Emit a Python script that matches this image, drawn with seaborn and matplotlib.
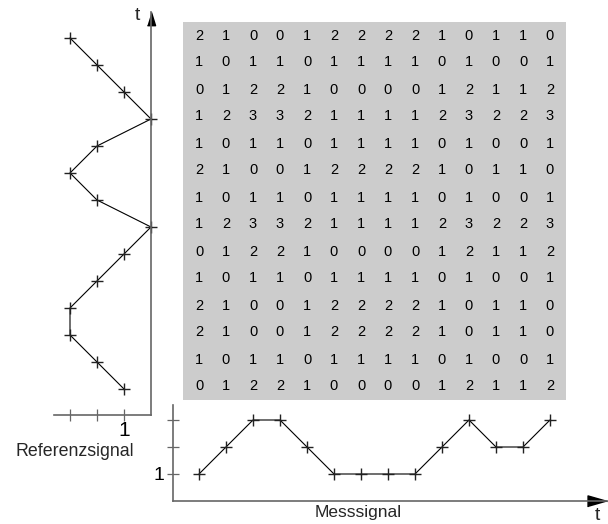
import numpy as np
import pandas as pd
import matplotlib
matplotlib.use("Agg")
import matplotlib.pyplot as plt
from matplotlib.colors import ListedColormap
import seaborn as sns

# ---- data ----
mess_signal = [1, 2, 3, 3, 2, 1, 1, 1, 1, 2, 3, 2, 2, 3]          # time 0..13 (left to right)
ref_signal = [1, 2, 3, 3, 2, 1, 0, 2, 3, 2, 0, 1, 2, 3]           # time 0..13 (bottom to top)
matrix_rows = [                                                    # top row first
    [2, 1, 0, 0, 1, 2, 2, 2, 2, 1, 0, 1, 1, 0],
    [1, 0, 1, 1, 0, 1, 1, 1, 1, 0, 1, 0, 0, 1],
    [0, 1, 2, 2, 1, 0, 0, 0, 0, 1, 2, 1, 1, 2],
    [1, 2, 3, 3, 2, 1, 1, 1, 1, 2, 3, 2, 2, 3],
    [1, 0, 1, 1, 0, 1, 1, 1, 1, 0, 1, 0, 0, 1],
    [2, 1, 0, 0, 1, 2, 2, 2, 2, 1, 0, 1, 1, 0],
    [1, 0, 1, 1, 0, 1, 1, 1, 1, 0, 1, 0, 0, 1],
    [1, 2, 3, 3, 2, 1, 1, 1, 1, 2, 3, 2, 2, 3],
    [0, 1, 2, 2, 1, 0, 0, 0, 0, 1, 2, 1, 1, 2],
    [1, 0, 1, 1, 0, 1, 1, 1, 1, 0, 1, 0, 0, 1],
    [2, 1, 0, 0, 1, 2, 2, 2, 2, 1, 0, 1, 1, 0],
    [2, 1, 0, 0, 1, 2, 2, 2, 2, 1, 0, 1, 1, 0],
    [1, 0, 1, 1, 0, 1, 1, 1, 1, 0, 1, 0, 0, 1],
    [0, 1, 2, 2, 1, 0, 0, 0, 0, 1, 2, 1, 1, 2],
]
tick_values = [1, 2, 3]
tick_labels = ["1", "", ""]
ref_label = "Referenzsignal"
mess_label = "Messsignal"
time_label = "t"

# ---- style ----
sns.set_theme(style="white")
plt.rcParams["font.family"] = ["Liberation Sans", "DejaVu Sans"]

W, H = 608, 524
fig = plt.figure(figsize=(W / 100, H / 100), dpi=100)

def rect(x0, y0, x1, y1):
    # pixel box (top-left origin) -> figure fraction rect
    return [x0 / W, 1 - y1 / H, (x1 - x0) / W, (y1 - y0) / H]

AX_COL = "#666666"
AX_LW = 1.2
U = 27.0
arrow_up = [(-4, -13), (4, -13), (0, 0)]
arrow_right = [(-14, -4), (-14, 4), (0, 0)]

# ---- matrix (heatmap) ----
axm = fig.add_axes(rect(183, 22, 566, 400))
mat = pd.DataFrame(matrix_rows)
sns.heatmap(mat, ax=axm, annot=True, fmt="d", cbar=False,
            cmap=ListedColormap(["#cccccc"]),
            annot_kws={"color": "black", "fontsize": 10.5},
            xticklabels=False, yticklabels=False)
axm.set_facecolor("#cccccc")
axm.set_xlim(-2.5 / U, 14 + 2.5 / U)
axm.set_xlabel("")
axm.set_ylabel("")

line_kw = dict(color="black", linewidth=0.8, marker="+", markersize=8.5,
               markeredgecolor="#222222", markeredgewidth=1.0, clip_on=False)

# ---- reference signal (left, vertical) ----
axl = fig.add_axes(rect(54, 12, 151, 415))
ref_df = pd.DataFrame({"value": ref_signal, "time": np.arange(len(ref_signal))})
sns.lineplot(data=ref_df, x="value", y="time", sort=False, estimator=None,
             orient="y", ax=axl, **line_kw)
axl.set_xlim((151 - 54) / U, 0)
axl.set_ylim(-(415 - 389) / U, (389 - 12) / U)
for s in ["left", "top"]:
    axl.spines[s].set_visible(False)
for s in ["right", "bottom"]:
    axl.spines[s].set_color(AX_COL)
    axl.spines[s].set_linewidth(AX_LW)
axl.set_xticks(tick_values)
axl.set_xticklabels(tick_labels, fontsize=15)
axl.set_yticks([])
axl.tick_params(axis="x", direction="inout", length=8, width=0.9,
                color=AX_COL, pad=0, labelcolor="black")
axl.xaxis.set_ticks_position("bottom")
axl.set_xlabel(ref_label, fontsize=12.8)
axl.xaxis.set_label_coords((75 - 54) / (151 - 54), -(452 - 415) / (415 - 12))
axl.xaxis.label.set_verticalalignment("center")
axl.set_ylabel("")
axl.plot([1], [1], transform=axl.transAxes, marker=arrow_up, markersize=19,
         color="black", clip_on=False, linestyle="none")
fig.text(137 / W, 1 - 15 / H, time_label, fontsize=14, ha="center", va="center")

# ---- measurement signal (bottom) ----
axb = fig.add_axes(rect(173, 405, 607, 501))
mess_df = pd.DataFrame({"time": np.arange(len(mess_signal)), "value": mess_signal})
sns.lineplot(data=mess_df, x="time", y="value", sort=False, estimator=None,
             ax=axb, **line_kw)
axb.set_xlim((173 - 199) / U, (607 - 199) / U)
axb.set_ylim(0, (501 - 405) / U)
for s in ["right", "top"]:
    axb.spines[s].set_visible(False)
for s in ["left", "bottom"]:
    axb.spines[s].set_color(AX_COL)
    axb.spines[s].set_linewidth(AX_LW)
axb.set_yticks(tick_values)
axb.set_yticklabels(tick_labels, fontsize=14)
axb.set_xticks([])
axb.tick_params(axis="y", direction="inout", length=8, width=0.9,
                color=AX_COL, pad=2, labelcolor="black")
axb.yaxis.set_ticks_position("left")
axb.set_xlabel(mess_label, fontsize=12.5)
axb.xaxis.set_label_coords((358 - 173) / (607 - 173), -(512 - 501) / (501 - 405))
axb.xaxis.label.set_verticalalignment("center")
axb.set_ylabel("")
axb.plot([1], [0], transform=axb.transAxes, marker=arrow_right, markersize=28,
         color="black", clip_on=False, linestyle="none")
fig.text(597 / W, 1 - 515 / H, time_label, fontsize=14, ha="center", va="center")

fig.savefig("out.png", dpi=100)
